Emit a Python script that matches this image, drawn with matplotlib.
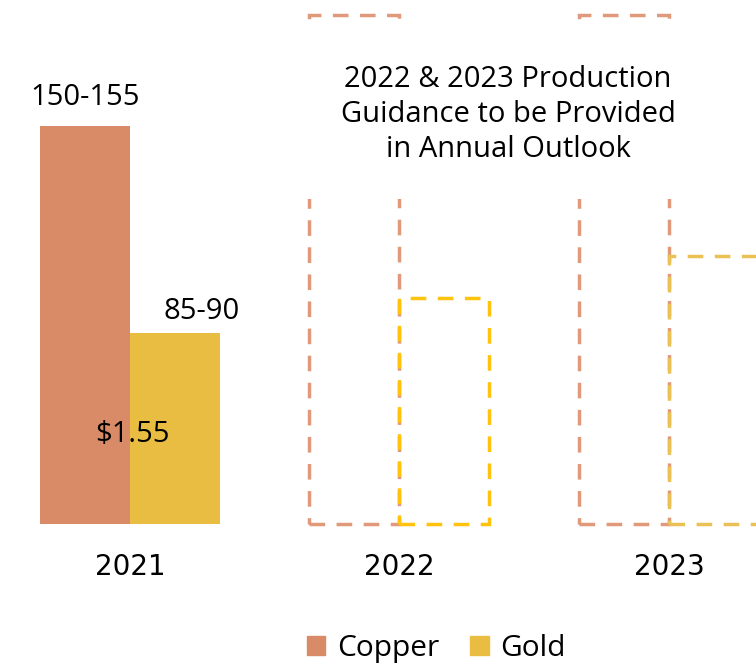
import matplotlib.pyplot as plt
from matplotlib.patches import Patch
import numpy as np

# Datos (escala relativa)
anos = ['2021', '2022', '2023']
cobre = [150, 192, 192]
oro = [72, 85, 101]
reales = [True, False, False]  # 2021 real, 2022/2023 guia pendiente
etiqueta_cobre = '150-155'
etiqueta_oro = '85-90'
etiqueta_costo = r'\$1.55'
nota = '2022 & 2023 Production\nGuidance to be Provided\nin Annual Outlook'

c_cobre = '#D98A66'
c_oro = '#E8BD41'
c_cobre_linea = '#E0997A'
c_oro_linea = ['#E8BD41', '#FFC20E', '#EAC155']

plt.rcParams['font.family'] = ['Open Sans', 'DejaVu Sans']

fig = plt.figure(figsize=(7.56, 6.64), dpi=100)
ax = fig.add_axes([0, 0.2108, 1, 0.7892])

x = np.arange(len(anos))
w = 0.334
for i in range(len(anos)):
    if reales[i]:
        ax.bar(x[i] - w / 2, cobre[i], w, color=c_cobre)
        ax.bar(x[i] + w / 2, oro[i], w, color=c_oro)
    else:
        ax.bar(x[i] - w / 2, cobre[i], w, fill=False, edgecolor=c_cobre_linea,
               linewidth=2.5, linestyle=(0, (4.5, 3.3)), clip_on=False)
        ax.bar(x[i] + w / 2, oro[i], w, fill=False, edgecolor=c_oro_linea[i],
               linewidth=2.5, linestyle=(0, (4.5, 3.3)), clip_on=False)

ax.annotate(etiqueta_cobre, (x[0] - w / 2, cobre[0]), xytext=(0, 10),
            textcoords='offset points', ha='center', va='bottom', fontsize=21)
ax.annotate(etiqueta_oro, (x[0] + w / 2, oro[0]), xytext=(19, 5),
            textcoords='offset points', ha='center', va='bottom', fontsize=21)
ax.annotate(etiqueta_costo, (x[0], oro[0]), xytext=(2, -73),
            textcoords='offset points', ha='center', va='center', fontsize=21)

ax.text(1.403, 154.2, nota, ha='center', va='center', fontsize=21,
        linespacing=1.27,
        bbox=dict(boxstyle='square,pad=1.2', facecolor='white', edgecolor='none'))

ax.set_xlim(-0.482, 2.323)
ax.set_ylim(0, 197.5)
ax.set_xticks(x)
ax.set_xticklabels(anos, fontsize=20, family='DejaVu Sans')
ax.tick_params(axis='x', length=0, pad=21)
ax.set_yticks([])
for s in ax.spines.values():
    s.set_visible(False)

handles = [Patch(color=c_cobre, label='Copper'), Patch(color=c_oro, label='Gold')]
fig.legend(handles=handles, loc='center', bbox_to_anchor=(0.577, 0.023), ncol=2,
           frameon=False, fontsize=21.5, handlelength=0.62, handleheight=0.62,
           handletextpad=0.38, columnspacing=1.05, borderpad=0.2)

fig.savefig('out.png', dpi=100)
